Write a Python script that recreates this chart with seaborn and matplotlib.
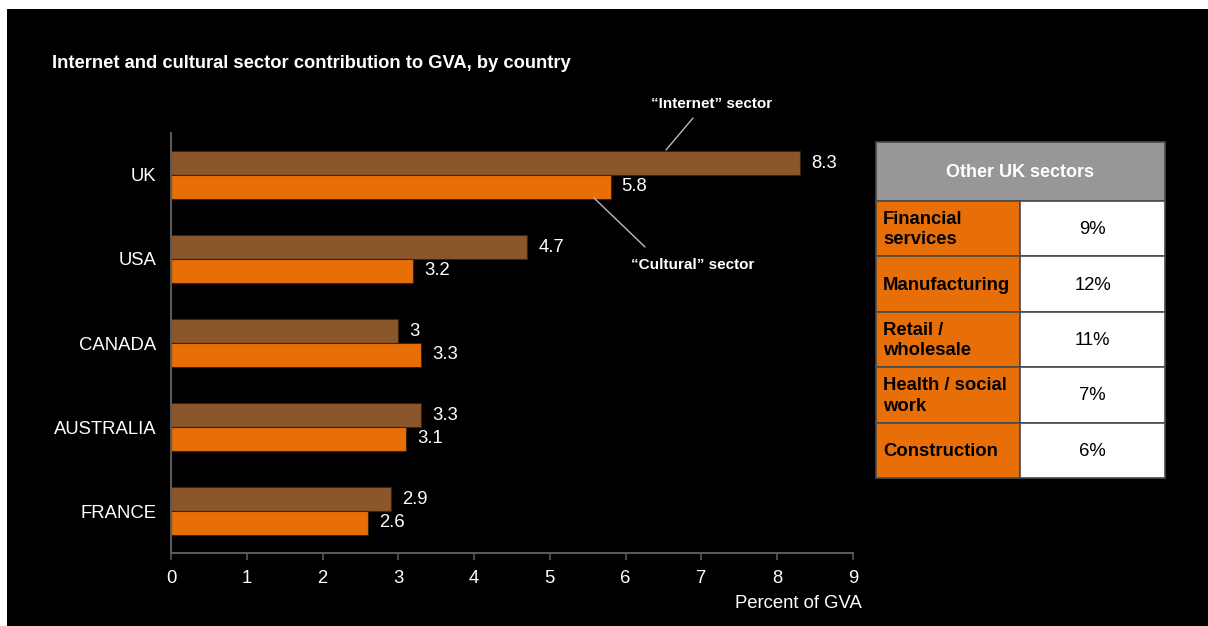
import matplotlib
matplotlib.use("Agg")
import matplotlib.pyplot as plt
from matplotlib.patches import Rectangle
import seaborn as sns
import pandas as pd

countries = ["UK", "USA", "CANADA", "AUSTRALIA", "FRANCE"]
internet = [8.3, 4.7, 3.0, 3.3, 2.9]
cultural = [5.8, 3.2, 3.3, 3.1, 2.6]
internet_labels = ["8.3", "4.7", "3", "3.3", "2.9"]
cultural_labels = ["5.8", "3.2", "3.3", "3.1", "2.6"]
x_ticks = [0, 1, 2, 3, 4, 5, 6, 7, 8, 9]

sectors = ["Financial\nservices", "Manufacturing", "Retail /\nwholesale", "Health / social\nwork", "Construction"]
shares = ["9%", "12%", "11%", "7%", "6%"]

BROWN = "#8A562A"
ORANGE = "#E86F08"
FONT = "Liberation Sans"

sns.set_theme(style="white")
plt.rcParams["font.family"] = [FONT, "DejaVu Sans"]

W, H = 1208, 626
fig = plt.figure(figsize=(W / 100, H / 100), dpi=100)
fig.patch.set_facecolor("white")
fig.patches.append(Rectangle((7 / W, 0), 1 - 7 / W, (H - 9) / H, transform=fig.transFigure,
                             facecolor="black", edgecolor="none", zorder=-10))

df = pd.DataFrame({
    "country": countries * 2,
    "value": internet + cultural,
    "sector": ["Internet"] * len(countries) + ["Cultural"] * len(countries),
})

ax = fig.add_axes([171 / W, 1 - 553 / H, (853 - 171) / W, (553 - 133) / H])
ax.set_facecolor("black")
sns.barplot(data=df, y="country", x="value", hue="sector", order=countries,
            hue_order=["Internet", "Cultural"], palette=[BROWN, ORANGE],
            orient="h", width=0.56, ax=ax, legend=False, saturation=1,
            edgecolor="#3a2410", linewidth=0.8)
ax.set_xlim(0, 9)
ax.set_ylim(len(countries) - 0.5, -0.5)
ax.set_xticks(x_ticks)
ax.set_xticklabels([str(t) for t in x_ticks])
ax.set_xlabel("")
ax.set_ylabel("")
for s in ["top", "right"]:
    ax.spines[s].set_visible(False)
for s in ["left", "bottom"]:
    ax.spines[s].set_color("#5a5a5a")
    ax.spines[s].set_linewidth(1.5)
ax.tick_params(axis="x", colors="#5a5a5a", length=5, width=1.2, direction="out",
               labelcolor="white", labelsize=13.3, pad=7, bottom=True)
ax.tick_params(axis="y", length=0, labelcolor="white", labelsize=13.3, pad=10.5)

# value labels
for cont, labels in zip(ax.containers, [internet_labels, cultural_labels]):
    ax.bar_label(cont, labels=labels, padding=8, color="white", fontsize=13.3)

# annotations
fig.text(712 / W, 1 - 104 / H, "\u201cInternet\u201d sector", ha="center", va="center",
         color="white", fontsize=11, fontweight="bold")
fig.text(693 / W, 1 - 265 / H, "\u201cCultural\u201d sector", ha="center", va="center",
         color="white", fontsize=11, fontweight="bold")
fig.add_artist(plt.Line2D([693 / W, 666 / W], [1 - 118 / H, 1 - 150 / H],
                          transform=fig.transFigure, color="#bbbbbb", linewidth=1))
fig.add_artist(plt.Line2D([594 / W, 645 / W], [1 - 198 / H, 1 - 247 / H],
                          transform=fig.transFigure, color="#bbbbbb", linewidth=1))

fig.text(52 / W, 1 - 63 / H, "Internet and cultural sector contribution to GVA, by country",
         color="white", fontsize=13.2, fontweight="bold", ha="left", va="center")
fig.text(862 / W, 1 - 604 / H, "Percent of GVA", color="white", fontsize=13.3,
         ha="right", va="center")

# table
tx0, tx1, tmid = 876, 1165, 1020
ty_header_top, ty_header_bot = 142, 201
row_edges = [201, 256, 312, 367, 423, 478]
tab = fig.add_axes([0, 0, 1, 1], facecolor="none")
tab.set_xlim(0, W)
tab.set_ylim(H, 0)
tab.axis("off")
border = "#4a4a4a"
tab.add_patch(Rectangle((tx0, ty_header_top), tx1 - tx0, ty_header_bot - ty_header_top,
                        facecolor="#979797", edgecolor=border, linewidth=1.2))
tab.text((tx0 + tx1) / 2, (ty_header_top + ty_header_bot) / 2 + 1, "Other UK sectors",
         color="white", fontsize=13, fontweight="bold", ha="center", va="center")
for i, (sec, sh) in enumerate(zip(sectors, shares)):
    y0, y1 = row_edges[i], row_edges[i + 1]
    tab.add_patch(Rectangle((tx0, y0), tmid - tx0, y1 - y0, facecolor=ORANGE,
                            edgecolor=border, linewidth=1.2))
    tab.add_patch(Rectangle((tmid, y0), tx1 - tmid, y1 - y0, facecolor="white",
                            edgecolor=border, linewidth=1.2))
    tab.text(tx0 + 7, (y0 + y1) / 2 + 1, sec, color="black", fontsize=13.3, fontweight="bold",
             ha="left", va="center", linespacing=1.3)
    tab.text((tmid + tx1) / 2, (y0 + y1) / 2 + 1, sh, color="black", fontsize=13.3,
             ha="center", va="center")

fig.savefig("out.png", dpi=100, facecolor=fig.get_facecolor())
